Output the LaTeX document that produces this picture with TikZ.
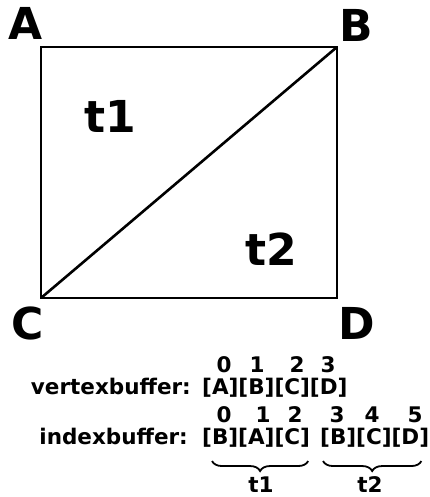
\documentclass[tikz,border=0pt]{standalone}
\usepackage{fontspec}
\setmainfont{DejaVu Sans}
\usetikzlibrary{decorations.pathreplacing}

\begin{document}
\begin{tikzpicture}[x=1pt, y=-1pt,
    every node/.style={font=\bfseries, inner sep=0pt},
    corner/.style={font=\fontsize{44}{44}\selectfont\bfseries},
    small/.style={font=\fontsize{21.5}{22}\selectfont\bfseries},
    grpbrace/.style={decorate, decoration={brace, amplitude=10pt, mirror}, line width=1.8pt}]
    \useasboundingbox (0,0) rectangle (430,497);

    % quadrat mit diagonale
    \coordinate (a) at (41,47);
    \coordinate (b) at (337,47);
    \coordinate (c) at (41,298);
    \coordinate (d) at (337,298);
    \draw[line width=1.8pt] (a) -- (b) -- (d) -- (c) -- cycle;
    \draw[line width=2.6pt] (c) -- (b);
    \node[corner, anchor=base west] (la) at (8,40) {A};
    \node[corner, anchor=base west] (lb) at (339,42) {B};
    \node[corner, anchor=base west] (lc) at (11,339) {C};
    \node[corner, anchor=base west] (ld) at (338,339) {D};
    \node[corner, anchor=base] (t1) at (110,133) {t1};
    \node[corner, anchor=base] (t2) at (271,265) {t2};

    % vertexbuffer
    \node[small, anchor=base east] (vb) at (191,394) {vertexbuffer:};
    \node[small, anchor=base west] (vlist) at (202,394) {[A][B][C][D]};
    \foreach \n/\x in {0/224,1/257,2/297,3/328}
        \node[small, anchor=base] (v\n) at (\x,372) {\n};

    % indexbuffer
    \node[small, anchor=base east] (ib) at (188,444) {indexbuffer:};
    \node[small, anchor=base west] (grpa) at (202,444) {[B][A][C]};
    \node[small, anchor=base west] (grpb) at (320,444) {[B][C][D]};
    \foreach \n/\x in {0/224,1/263,2/295,3/337,4/372,5/415}
        \node[small, anchor=base] (i\n) at (\x,422) {\n};
    \draw[grpbrace] ([xshift=10pt, yshift=-14pt]grpa.south west) -- ([xshift=-2pt, yshift=-14pt]grpa.south east);
    \draw[grpbrace] ([xshift=3pt, yshift=-14pt]grpb.south west) -- ([xshift=-8pt, yshift=-14pt]grpb.south east);
    \node[small, anchor=base] (ta) at (261,492) {t1};
    \node[small, anchor=base] (tb) at (370,492) {t2};
\end{tikzpicture}
\end{document}
